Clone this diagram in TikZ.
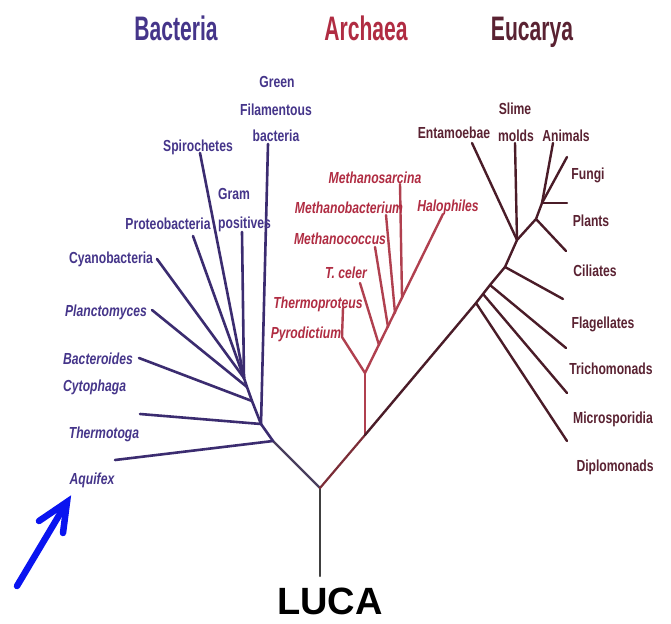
\documentclass[tikz,border=0pt]{standalone}
\usepackage{fontspec}
\setmainfont{Liberation Sans}
\newfontfamily\lblf[FakeStretch=0.76]{Liberation Sans}
\newfontfamily\hdrf[FakeStretch=0.62]{Liberation Sans}
\definecolor{bactc}{HTML}{45358A}
\definecolor{bactl}{HTML}{3B2C70}
\definecolor{archc}{HTML}{B02C42}
\definecolor{archl}{HTML}{B0404F}
\definecolor{eukc}{HTML}{5A2232}
\definecolor{eukl}{HTML}{4A1C28}
\definecolor{rootl}{HTML}{4A3F5E}
\definecolor{arrowc}{HTML}{0A14F0}
\begin{document}
\begin{tikzpicture}[x=1pt,y=-1pt,
  lbl/.style={inner sep=0pt,anchor=base,font=\lblf\fontsize{16}{19}\selectfont\bfseries},
  lblw/.style={lbl,anchor=base west},
  ital/.style={font=\lblf\fontsize{16}{19}\selectfont\bfseries\itshape},
  hdr/.style={inner sep=0pt,anchor=base,font=\hdrf\fontsize{34}{40}\selectfont\bfseries},
  bline/.style={draw=bactl,line width=2.6pt,line cap=round,line join=round},
  aline/.style={draw=archl,line width=2.4pt,line cap=round,line join=round},
  eline/.style={draw=eukl,line width=2.4pt,line cap=round,line join=round},
  trunk/.style={line width=2.2pt,line cap=round,line join=round}]
\useasboundingbox (0,0) rectangle (671,623);
\fill[white] (0,0) rectangle (671,623);

% headers
\node[hdr,text=bactc] (hB) at (176,41) {Bacteria};
\node[hdr,text=archc] (hA) at (366,41) {Archaea};
\node[hdr,text=eukc] (hE) at (532,41) {Eucarya};

% trunk coordinates
\coordinate (luca) at (320,576);
\coordinate (R) at (320,488);
\coordinate (aR) at (365,435);

% bacteria stem
\coordinate (b1) at (273,441);
\coordinate (b2) at (261,424);
\coordinate (b3) at (252,401);
\coordinate (b4) at (247,387);
\coordinate (b5) at (244,378);
% bacteria leaves
\coordinate (la) at (115,460);
\coordinate (lt) at (140,414);
\coordinate (lbc) at (139,358);
\coordinate (lp) at (152,310);
\coordinate (lc) at (157,259);
\coordinate (lpr) at (193,236);
\coordinate (ls) at (200,153);
\coordinate (lg) at (242,232);
\coordinate (lf) at (268,144);

% archaea
\coordinate (aN) at (365,373);
\coordinate (aL) at (342,337);
\coordinate (aTp) at (343,308);
\coordinate (aH) at (443,214);
\coordinate (jTc) at (379,345);
\coordinate (eTc) at (360,283);
\coordinate (jMc) at (388,327);
\coordinate (eMc) at (375,247);
\coordinate (jMb) at (395,313);
\coordinate (eMb) at (386,215);
\coordinate (jMs) at (402,297);
\coordinate (eMs) at (400,184);

% eucarya
\coordinate (e2) at (476,303);
\coordinate (e3) at (483,294);
\coordinate (e4) at (490,285);
\coordinate (e5) at (505,267);
\coordinate (e6) at (517,240);
\coordinate (e7) at (536,219);
\coordinate (e8) at (542,203);
\coordinate (xDi) at (567,441);
\coordinate (xMi) at (567,393);
\coordinate (xTr) at (566,348);
\coordinate (xFl) at (563,299);
\coordinate (xEn) at (472,143);
\coordinate (xSm) at (515,143);
\coordinate (xCi) at (566,251);
\coordinate (xAn) at (553,143);
\coordinate (xFu) at (567,157);
\coordinate (xPl) at (567,203);

% trunk lines
\draw[trunk,draw=black!75] (luca) -- (R);
\draw[trunk,draw=rootl] (R) -- (b1);
\draw[trunk,draw=archl!70!black] (R) -- (aR);

% bacteria
\draw[bline] (b1) -- (b2) -- (b3) -- (b4) -- (b5);
\draw[bline] (la) -- (b1);
\draw[bline] (lt) -- (b2);
\draw[bline] (lbc) -- (b3);
\draw[bline] (lp) -- (b4);
\draw[bline] (lc) -- (b5);
\draw[bline] (lpr) -- (b5);
\draw[bline] (ls) -- (b5);
\draw[bline] (lg) -- (b5);
\draw[bline] (lf) -- (b2);

% archaea
\draw[aline] (aR) -- (aN);
\draw[aline] (aN) -- (aL);
\draw[aline] (aTp) -- (aL);
\draw[aline] (aN) -- (aH);
\draw[aline] (eTc) -- (jTc);
\draw[aline] (eMc) -- (jMc);
\draw[aline] (eMb) -- (jMb);
\draw[aline] (eMs) -- (jMs);

% eucarya
\draw[eline] (aR) -- (e2) -- (e3) -- (e4) -- (e5) -- (e6) -- (e7) -- (e8);
\draw[eline] (e2) -- (xDi);
\draw[eline] (e3) -- (xMi);
\draw[eline] (e4) -- (xTr);
\draw[eline] (e5) -- (xFl);
\draw[eline] (e6) -- (xEn);
\draw[eline] (e6) -- (xSm);
\draw[eline] (e7) -- (xCi);
\draw[eline] (e8) -- (xAn);
\draw[eline] (e8) -- (xFu);
\draw[eline] (e8) -- (xPl);

% bacteria labels
\begin{scope}[text=bactc]
\node[lbl] (green1) at (277,88) {Green};
\node[lbl] (green2) at (276,116) {Filamentous};
\node[lbl] (green3) at (276,141) {bacteria};
\node[lbl] (spiro) at (198,151) {Spirochetes};
\node[lblw] (gram1) at (218,199) {Gram};
\node[lblw] (gram2) at (218,228) {positives};
\node[lbl] (proteo) at (168,229) {Proteobacteria};
\node[lbl] (cyano) at (111,263) {Cyanobacteria};
\node[lbl,ital] (plancto) at (106,316) {Planctomyces};
\node[lblw,ital] (bact1) at (63,364) {Bacteroides};
\node[lblw,ital] (bact2) at (63,391) {Cytophaga};
\node[lbl,ital] (thermotoga) at (104,438) {Thermotoga};
\node[lbl,ital] (aquifex) at (92,484) {Aquifex};
\end{scope}

% archaea labels
\begin{scope}[text=archc]
\node[lbl,ital] (msarc) at (375,183) {Methanosarcina};
\node[lbl,ital] (mbact) at (349,213) {Methanobacterium};
\node[lbl,ital] (mcocc) at (340,244) {Methanococcus};
\node[lbl,ital] (tceler) at (346,278) {T. celer};
\node[lbl,ital] (tprot) at (318,308) {Thermoproteus};
\node[lbl,ital] (pyro) at (306,338) {Pyrodictium};
\node[lbl,ital] (halo) at (448,211) {Halophiles};
\end{scope}

% eucarya labels
\begin{scope}[text=eukc]
\node[lbl] (entam) at (454,139) {Entamoebae};
\node[lbl] (slime1) at (515,114) {Slime};
\node[lbl] (slime2) at (516,141) {molds};
\node[lbl] (animals) at (566,141) {Animals};
\node[lbl] (fungi) at (588,179) {Fungi};
\node[lbl] (plants) at (591,226) {Plants};
\node[lbl] (ciliates) at (595,276) {Ciliates};
\node[lbl] (flag) at (603,328) {Flagellates};
\node[lbl] (trich) at (611,374) {Trichomonads};
\node[lbl] (micro) at (613,423) {Microsporidia};
\node[lbl] (diplo) at (615,471) {Diplomonads};
\end{scope}

% LUCA
\node[inner sep=0pt,anchor=base,font=\fontsize{38}{44}\selectfont\bfseries] (LUCA) at (330,614) {LUCA};

% blue arrow
\coordinate (arTail) at (17,586);
\coordinate (arTip) at (67,502);
\coordinate (arB1) at (39,521);
\coordinate (arB2) at (63,533);
\draw[draw=arrowc,line width=6.5pt,line cap=round,line join=miter] (arTail) -- (arTip);
\draw[draw=arrowc,line width=6.5pt,line cap=round,line join=miter] (arB1) -- (arTip) -- (arB2);
\end{tikzpicture}
\end{document}
